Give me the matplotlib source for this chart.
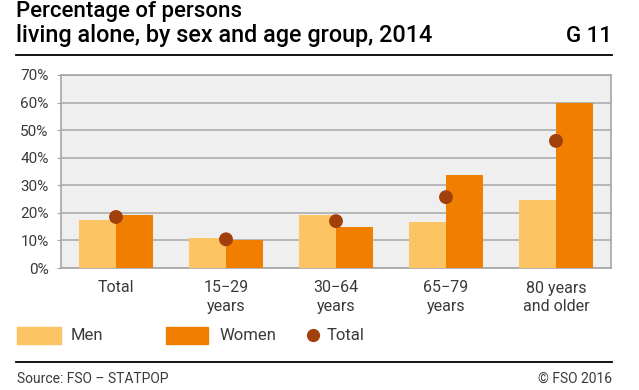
import numpy as np
import matplotlib.pyplot as plt
from matplotlib.patches import Rectangle
from matplotlib.lines import Line2D

plt.rcParams['font.family'] = ['Roboto', 'DejaVu Sans']

# data
groups = ["Total", "15\u221229\nyears", "30\u221264\nyears", "65\u221279\nyears", "80 years\nand older"]
men = [17.5, 10.9, 19.3, 16.7, 24.5]
women = [19.3, 10.1, 15.0, 33.7, 59.9]
total = [18.5, 10.4, 17.0, 25.7, 46.1]
yticks = [0, 10, 20, 30, 40, 50, 60, 70]

c_men = "#fdc463"
c_women = "#f07f00"
c_total = "#a2400b"
grid_c = "#a6a6a6"
txt_c = "#3a3a3a"

W, H = 639, 390
fig = plt.figure(figsize=(W / 100, H / 100), dpi=100)

def fx(px):
    return px / W

def fy(py):
    return 1 - py / H

# title block
fig.text(fx(16), fy(17), "Percentage of persons", fontsize=16, fontweight="medium",
         va="baseline", ha="left")
fig.text(fx(16), fy(42), "living alone, by sex and age group, 2014", fontsize=16.8,
         fontweight="medium", va="baseline", ha="left")
fig.text(fx(612), fy(42), "G 11", fontsize=16, fontweight="medium", va="baseline", ha="right")
fig.add_artist(Line2D([fx(16), fx(612)], [fy(55), fy(55)], color="black", lw=1.3))

# axes
ax = fig.add_axes([fx(61), fy(268), fx(611) - fx(61), fy(75) - fy(268)])
ax.set_facecolor("#efefef")
x = np.arange(len(groups))
w = 0.333
ax.bar(x - w / 2, men, width=w, color=c_men, zorder=3)
ax.bar(x + w / 2, women, width=w, color=c_women, zorder=3)
ax.scatter(x, total, s=100, color=c_total, zorder=4, edgecolors="none")

ax.set_xlim(-0.5, len(groups) - 0.5)
ax.set_ylim(0, 70)
ax.set_yticks(yticks)
ax.set_yticklabels([f"{v}%" for v in yticks], fontsize=11, color=txt_c)
ax.set_xticks(x)
ax.set_xticklabels(groups, fontsize=11.5, color=txt_c, linespacing=1.3)
ax.tick_params(axis="x", length=0, pad=9)
ax.tick_params(axis="y", length=3, color=grid_c, pad=6)
ax.yaxis.grid(True, color=grid_c, lw=1.1, zorder=1)
for s in ax.spines.values():
    s.set_color(grid_c)
    s.set_linewidth(1.2)

# legend
fig.add_artist(Rectangle((fx(17), fy(344)), fx(44) - fx(0), fy(327) - fy(344),
                         color=c_men, transform=fig.transFigure))
fig.text(fx(71), fy(335), "Men", fontsize=12, va="center", ha="left", color=txt_c)
fig.add_artist(Rectangle((fx(166), fy(344)), fx(42) - fx(0), fy(327) - fy(344),
                         color=c_women, transform=fig.transFigure))
fig.text(fx(219), fy(335), "Women", fontsize=12, va="center", ha="left", color=txt_c)
fig.add_artist(Line2D([fx(313)], [fy(335)], marker="o", markersize=9.5, color=c_total,
                      markeredgewidth=0))
fig.text(fx(327), fy(335), "Total", fontsize=12, va="center", ha="left", color=txt_c)

fig.add_artist(Line2D([fx(16), fx(612)], [fy(362), fy(362)], color="black", lw=1.3))
fig.text(fx(17), fy(379), "Source: FSO \u2013 STATPOP", fontsize=10, va="center",
         ha="left", color=txt_c)
fig.text(fx(612), fy(379), "\u00a9 FSO 2016", fontsize=10, va="center", ha="right",
         color=txt_c)

fig.savefig("out.png", dpi=100)
